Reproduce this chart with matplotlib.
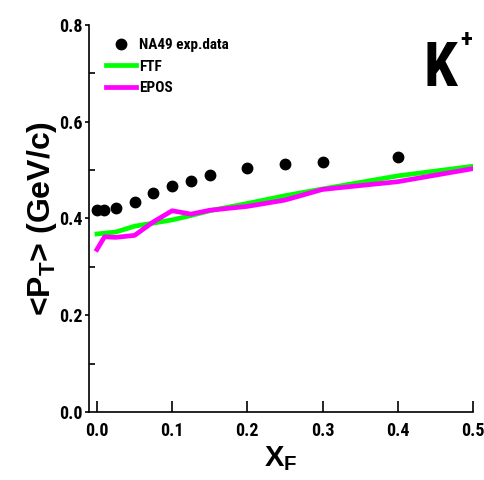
import matplotlib
matplotlib.use('Agg')
import matplotlib.pyplot as plt
from matplotlib import font_manager

# Узкий жирный шрифт (как Arial Narrow Bold), если найдётся
def bold_weight(w):
    if isinstance(w, str):
        return w in ('bold', 'heavy', 'black', 'extra bold', 'semibold', 'demibold')
    return w >= 600

cands = {}
for f in font_manager.fontManager.ttflist:
    if ('Narrow' in f.name or 'Condensed' in f.name
            or f.stretch in ('condensed', 'semi-condensed')) and bold_weight(f.weight):
        cands[f.name] = f.fname
pref = ['Liberation Sans Narrow', 'Arial Narrow', 'Roboto Condensed',
        'DejaVu Sans Condensed', 'Open Sans Condensed']
narrow = None
for p in pref:
    if p in cands:
        narrow = p
        break
if narrow is None and cands:
    narrow = sorted(cands)[0]
base = narrow if narrow else 'Liberation Sans'

plt.rcParams['font.family'] = [base, 'Liberation Sans', 'DejaVu Sans']
plt.rcParams['font.weight'] = 'bold'
plt.rcParams['axes.labelweight'] = 'bold'
plt.rcParams['mathtext.fontset'] = 'custom'
plt.rcParams['mathtext.bf'] = 'Liberation Sans:bold'
plt.rcParams['mathtext.rm'] = 'Liberation Sans:bold'
plt.rcParams['mathtext.default'] = 'bf'

# Данные NA49
xf_na49 = [0.0, 0.01, 0.025, 0.05, 0.075, 0.1, 0.125, 0.15, 0.2, 0.25, 0.3, 0.4]
pt_na49 = [0.417, 0.418, 0.421, 0.434, 0.452, 0.467, 0.478, 0.490, 0.505, 0.512, 0.517, 0.527]

# FTF
xf_ftf = [0.0, 0.025, 0.05, 0.1, 0.125, 0.15, 0.2, 0.25, 0.3, 0.4, 0.5]
pt_ftf = [0.368, 0.372, 0.384, 0.397, 0.406, 0.416, 0.431, 0.447, 0.461, 0.488, 0.508]

# EPOS
xf_epos = [0.0, 0.01, 0.025, 0.05, 0.075, 0.1, 0.125, 0.15, 0.2, 0.25, 0.3, 0.4, 0.5]
pt_epos = [0.336, 0.362, 0.361, 0.365, 0.393, 0.416, 0.409, 0.417, 0.425, 0.438, 0.460, 0.476, 0.503]

fig = plt.figure(figsize=(4.85, 4.8), dpi=100)
ax = fig.add_axes([0.1835, 0.1417, 0.7915, 0.8063])

ax.plot(xf_ftf, pt_ftf, color='#00ff00', lw=3.4, label='FTF', zorder=2)
ax.plot(xf_epos, pt_epos, color='#ff00ff', lw=3.4, label='EPOS', zorder=3)
ax.plot(xf_na49, pt_na49, 'o', color='black', ms=7.5, label='NA49 exp.data', zorder=4)

ax.set_xlim(-0.0106, 0.5)
ax.set_ylim(0.0, 0.8)
ax.set_xticks([0.0, 0.1, 0.2, 0.3, 0.4, 0.5])
ax.set_yticks([0.0, 0.2, 0.4, 0.6, 0.8])
ax.set_yticks([0.1, 0.3, 0.5, 0.7], minor=True)
ax.xaxis.set_major_formatter(matplotlib.ticker.FormatStrFormatter('%.1f'))
ax.yaxis.set_major_formatter(matplotlib.ticker.FormatStrFormatter('%.1f'))

for s in ['top', 'right']:
    ax.spines[s].set_visible(False)
for s in ['left', 'bottom']:
    ax.spines[s].set_linewidth(1.2)

tsize = 13 if narrow else 11.5
ax.tick_params(axis='x', direction='in', length=8, width=1.2, labelsize=tsize, pad=7)
ax.tick_params(axis='y', which='major', direction='out', length=3, width=1.2, labelsize=tsize, pad=1.5)
ax.tick_params(axis='y', which='minor', direction='in', length=4, width=1.2)
for lbl in ax.get_xticklabels() + ax.get_yticklabels():
    lbl.set_fontweight('bold')

ax.set_xlabel(r'X$_F$', fontsize=21, labelpad=3, family='Liberation Sans', fontweight='bold')
ax.set_ylabel(r'<P$_T$> (GeV/c)', fontsize=23, labelpad=0, family='Liberation Sans',
              fontweight='bold')

handles, labels = ax.get_legend_handles_labels()
order = [2, 0, 1]
ax.legend([handles[i] for i in order], [labels[i] for i in order],
          loc='upper left', bbox_to_anchor=(0.02, 0.99), frameon=False,
          prop={'size': 11 if narrow else 10, 'weight': 'bold'},
          handlelength=2.0, handletextpad=0.2, labelspacing=0.5, borderaxespad=0.2)

# Подпись частицы K+
ax.text(0.872, 0.842, 'K', transform=ax.transAxes, fontsize=44 if narrow else 36,
        fontweight='bold', ha='left', va='baseline')
ax.text(0.966, 0.943, '+', transform=ax.transAxes, fontsize=18, fontweight='bold',
        ha='left', va='baseline')

fig.savefig('out.png', dpi=100)
